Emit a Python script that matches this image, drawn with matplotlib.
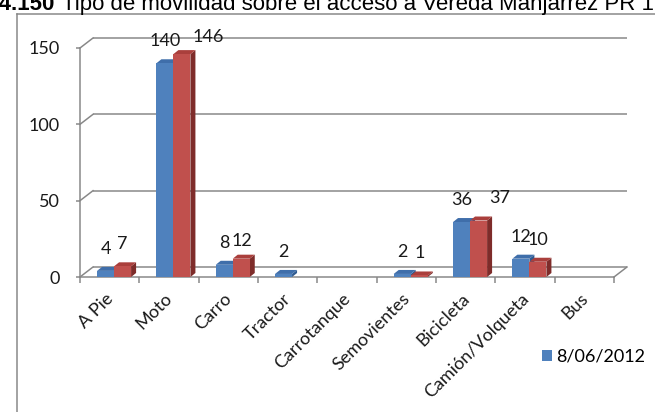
import matplotlib
matplotlib.use("Agg")
import matplotlib.pyplot as plt
import matplotlib.transforms as mtransforms
from matplotlib.patches import Polygon, Patch
from matplotlib.lines import Line2D
import numpy as np

# ---------------- data ----------------
categories = ["A Pie", "Moto", "Carro", "Tractor", "Carrotanque",
              "Semovientes", "Bicicleta", "Camión/Volqueta", "Bus"]
serie_1 = [4, 140, 8, 2, np.nan, 2, 36, 12, np.nan]
serie_2 = [7, 146, 12, np.nan, np.nan, 1, 37, 10, np.nan]
serie_1_name = "8/06/2012"
y_ticks = [0, 50, 100, 150]
title_num = "5.4.150"
title_text = "Tipo de movilidad sobre el acceso a Vereda Manjarrez PR 15"

# ---------------- style ----------------
W, H, DPI = 655, 412, 100
GRAY = "#878787"
FONT = "Lato"
FS = 13
plt.rcParams["font.family"] = [FONT, "DejaVu Sans"]
plt.rcParams["font.size"] = FS

colors = {
    0: dict(front="#4F81BD", top="#3F6EAA", side="#2F5A8F"),
    1: dict(front="#C0504D", top="#AA3F3C", side="#7E2C2A"),
}

fig = plt.figure(figsize=(W / DPI, H / DPI), dpi=DPI)

# axes geometry in pixels (front plane)
AX_L, AX_R, AX_B, AX_T = 80, 614, 277, 48
ax = fig.add_axes([AX_L / W, (H - AX_B) / H, (AX_R - AX_L) / W, (AX_B - AX_T) / H])
n = len(categories)
ax.set_xlim(0, n)
ax.set_ylim(y_ticks[0], y_ticks[-1])
ax.patch.set_visible(False)

px_x = (AX_R - AX_L) / n                           # pixels per category
px_y = (AX_B - AX_T) / (y_ticks[-1] - y_ticks[0])  # pixels per unit

def px2pt(p):
    return p * 72.0 / DPI

# back wall offset (pixels) and bar depth (pixels)
BX, BY = 13 / px_x, 10 / px_y
DX, DY = 5 / px_x, 4 / px_y
LW = px2pt(1.5)

for s in ["top", "right"]:
    ax.spines[s].set_visible(False)
for s in ["left", "bottom"]:
    ax.spines[s].set_color(GRAY)
    ax.spines[s].set_linewidth(LW)

# back gridlines + connectors
for v in y_ticks:
    ax.plot([BX, n + BX], [v + BY, v + BY], color=GRAY, lw=LW, clip_on=False, zorder=1,
            solid_capstyle="butt")
    ax.plot([0, BX], [v, v + BY], color=GRAY, lw=LW, clip_on=False, zorder=1)
ax.plot([n, n + BX], [0, BY], color=GRAY, lw=LW, clip_on=False, zorder=1)

# bars with pseudo-3D faces
GAP, BW = 0.287, 0.287
label_offsets = {(1, 1): (26, 17), (1, 2): (1, 18), (1, 6): (21, 23)}
z = 3
for si, vals in enumerate([serie_1, serie_2]):
    c = colors[si]
    for i, v in enumerate(vals):
        if np.isnan(v):
            continue
        x0 = i + GAP + si * BW
        x1 = x0 + BW
        side = Polygon([(x1, 0), (x1 + DX, DY), (x1 + DX, v + DY), (x1, v)],
                       closed=True, facecolor=c["side"], edgecolor="none", zorder=z + si * 3,
                       clip_on=False)
        top = Polygon([(x0, v), (x1, v), (x1 + DX, v + DY), (x0 + DX, v + DY)],
                      closed=True, facecolor=c["top"], edgecolor="none", zorder=z + si * 3 + 1,
                      clip_on=False)
        ax.add_patch(side)
        ax.add_patch(top)
    xs = [i + GAP + si * BW for i, v in enumerate(vals) if not np.isnan(v)]
    hs = [v for v in vals if not np.isnan(v)]
    ax.bar(xs, hs, width=BW, align="edge", color=c["front"], edgecolor="none",
           zorder=z + si * 3 + 2, clip_on=False)
    for i, v in enumerate(vals):
        if np.isnan(v):
            continue
        ox, oy = label_offsets.get((si, i), (0, 22))
        ax.annotate(f"{v:g}", xy=(i + GAP + si * BW + BW / 2, v),
                    xytext=(px2pt(ox), px2pt(oy)), textcoords="offset points",
                    ha="center", va="center", fontsize=FS, color="#1a1a1a", zorder=20,
                    annotation_clip=False)

# ticks
ax.set_yticks(y_ticks)
ax.tick_params(axis="y", length=px2pt(4), width=LW, color=GRAY, pad=px2pt(16),
               labelsize=FS, labelcolor="#1a1a1a")
ax.set_xticks(np.arange(n) + 0.5)
ax.set_xticklabels(categories, rotation=45, ha="right", va="center",
                   rotation_mode="anchor")
ax.tick_params(axis="x", which="major", length=0, pad=px2pt(19), labelsize=FS,
               labelcolor="#1a1a1a")
ax.set_xticks(np.arange(n + 1), minor=True)
ax.tick_params(axis="x", which="minor", length=px2pt(6), width=LW, color=GRAY)
shift = mtransforms.ScaledTranslation(1 / DPI, 0, fig.dpi_scale_trans)
for lab in ax.get_xticklabels():
    lab.set_transform(lab.get_transform() + shift)

# legend (first series visible)
ax.legend(handles=[Patch(facecolor=colors[0]["front"], label=serie_1_name)],
          loc="center left", bbox_to_anchor=(542 / W, 1 - 357 / H),
          bbox_transform=fig.transFigure, frameon=False, handlelength=0.55,
          handleheight=0.55, handletextpad=0.25, borderpad=0, borderaxespad=0,
          fontsize=FS)

# outer frame
fig.add_artist(Line2D([17 / W, 17 / W], [0, 1 - 14 / H], transform=fig.transFigure,
                      color=GRAY, lw=LW))
fig.add_artist(Line2D([17 / W, 1], [1 - 14 / H, 1 - 14 / H], transform=fig.transFigure,
                      color=GRAY, lw=LW))

# title (cropped at the top and sides, as in the reference)
fig.text(55 / W, 1 - 10 / H, title_num, ha="right", va="baseline",
         fontsize=16, fontweight="bold", family="Liberation Sans")
fig.text(62 / W, 1 - 10 / H, title_text, ha="left", va="baseline",
         fontsize=16, family="Liberation Sans")

fig.savefig("out.png", dpi=DPI)
